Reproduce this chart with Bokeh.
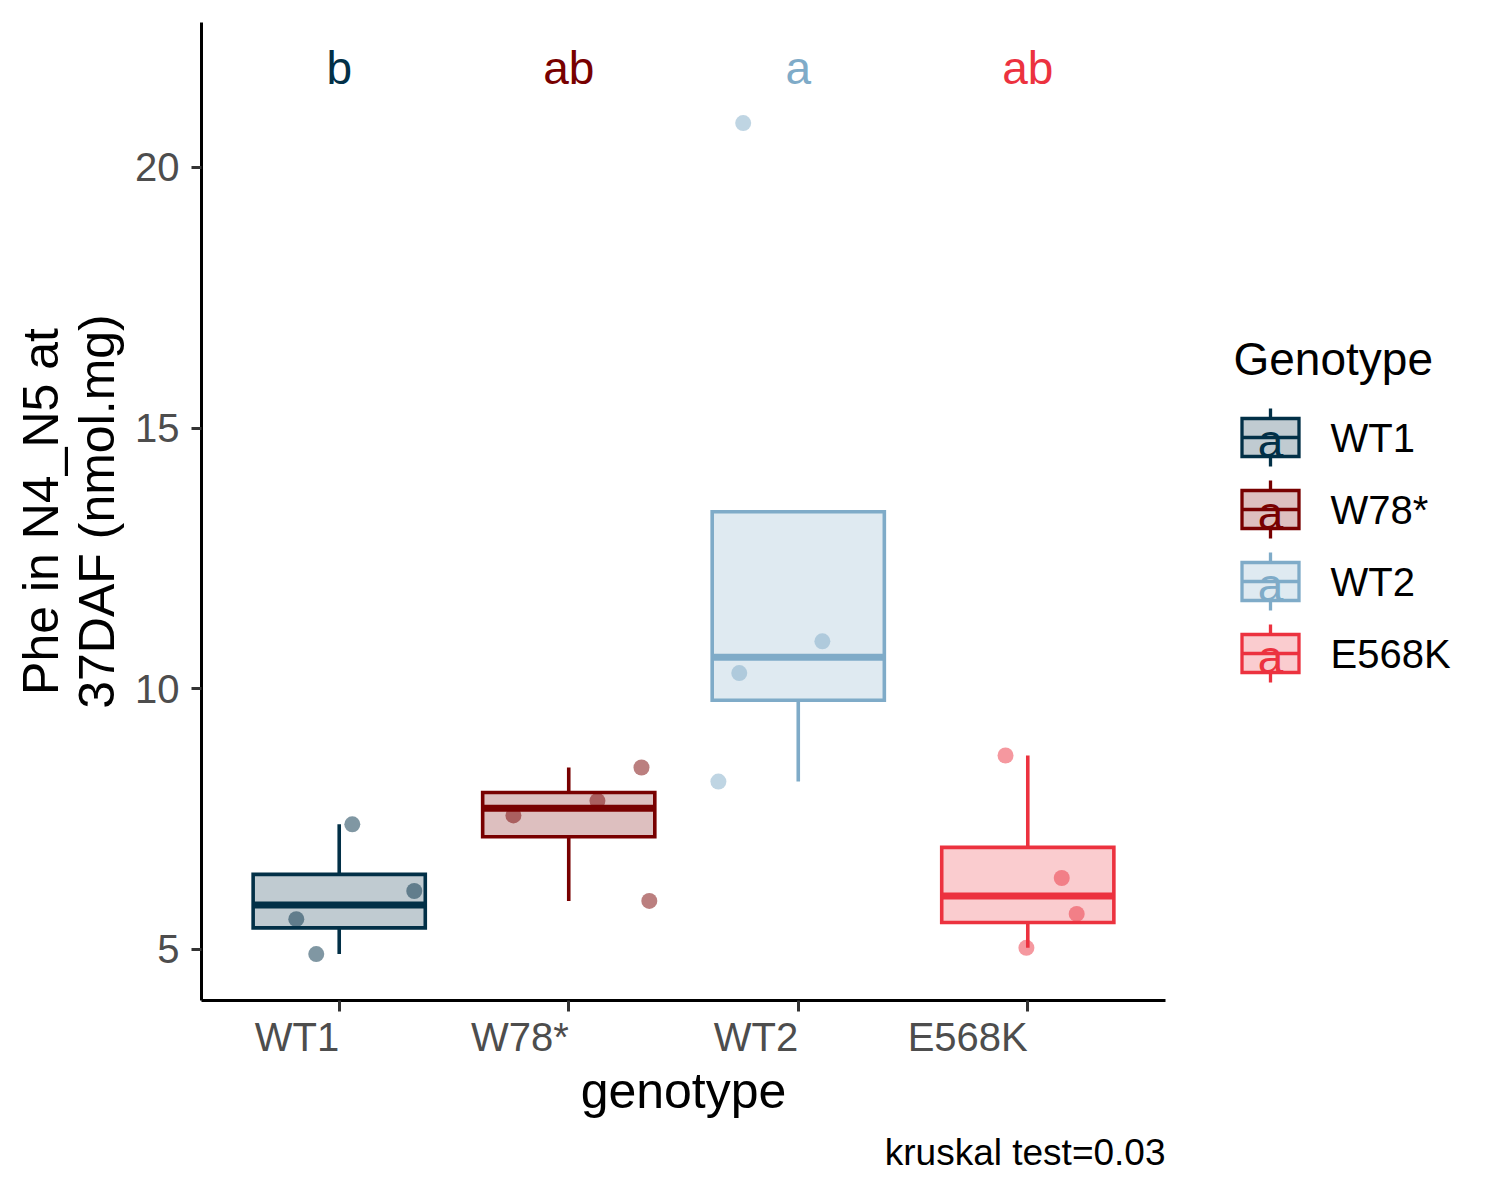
import numpy as np
from bokeh.plotting import figure
from bokeh.models import Range1d, FixedTicker, Title
from bokeh.layouts import row
from bokeh.core.properties import value
from bokeh.embed import file_html
from bokeh.resources import INLINE

FONT = "Liberation Sans"

# ---------------- data ----------------
genotypes = ["WT1", "W78*", "WT2", "E568K"]
colors = ["#023047", "#780000", "#7FABC8", "#EC323F"]
letters = ["b", "ab", "a", "ab"]
letter_y = 21.9

wt1_values = [7.40, 6.12, 5.58, 4.91]
wt1_jitter = [0.057, 0.327, -0.187, -0.100]
w78_values = [8.49, 7.85, 7.57, 5.93]
w78_jitter = [0.317, 0.125, -0.241, 0.351]
wt2_values = [20.85, 10.91, 10.30, 8.22]
wt2_jitter = [-0.240, 0.105, -0.257, -0.348]
e568k_values = [8.72, 6.37, 5.68, 5.03]
e568k_jitter = [-0.097, 0.148, 0.213, -0.006]

group_values = [wt1_values, w78_values, wt2_values, e568k_values]
group_jitter = [wt1_jitter, w78_jitter, wt2_jitter, e568k_jitter]

y_ticks = [5, 10, 15, 20]
caption = "kruskal test=0.03"
y_title = "Phe in N4_N5 at\n37DAF (nmol.mg)"
x_title = "genotype"
legend_title = "Genotype"

BOX_W = 0.75

# ---------------- layout (page pixels) ----------------
FRAME_L, FRAME_R, FRAME_T, FRAME_B = 201, 1165, 22, 1000
MAIN_W, TOTAL_W, TOTAL_H = 1175, 1484, 1184

# ---------------- main figure ----------------
p = figure(width=MAIN_W, height=TOTAL_H,
           x_range=Range1d(0.4, 4.6), y_range=Range1d(4.02, 22.78),
           output_backend="svg", toolbar_location=None,
           min_border_left=FRAME_L, min_border_right=MAIN_W - FRAME_R,
           min_border_top=FRAME_T, min_border_bottom=TOTAL_H - FRAME_B)
p.grid.visible = False
p.outline_line_color = None
p.background_fill_color = "white"

positions = list(range(1, len(genotypes) + 1))

# points (drawn first, boxes over them)
for i, (vals, jit) in enumerate(zip(group_values, group_jitter)):
    xs = [positions[i] + j for j in jit]
    p.scatter(xs, vals, size=16, fill_color=colors[i], line_color=None,
              fill_alpha=0.5)

# boxplots
for i, vals in enumerate(group_values):
    v = np.array(vals)
    q1, med, q3 = np.percentile(v, [25, 50, 75])
    iqr = q3 - q1
    inside = v[(v >= q1 - 1.5 * iqr) & (v <= q3 + 1.5 * iqr)]
    lo = min(q1, inside.min())
    hi = max(q3, inside.max())
    x = positions[i]
    c = colors[i]
    p.segment([x, x], [q3, q1], [x, x], [hi, lo], line_color=c, line_width=3.6)
    p.quad(left=[x - BOX_W / 2], right=[x + BOX_W / 2], bottom=[q1], top=[q3],
           fill_color=c, fill_alpha=0.25, line_color=c, line_width=3.6,
           line_join="miter")
    p.segment([x - BOX_W / 2], [med], [x + BOX_W / 2], [med],
              line_color=c, line_width=7)

# significance letters
p.text(positions, [letter_y] * len(positions), text=letters,
       text_color=colors, text_align="center", text_baseline="middle",
       text_font=value(FONT), text_font_size="46px")

# axes
ax = p.yaxis[0]
ax.ticker = FixedTicker(ticks=y_ticks)
ax.minor_tick_line_color = None
ax.axis_line_width = 3
ax.axis_line_color = "black"
ax.major_tick_line_color = "#333333"
ax.major_tick_line_width = 3
ax.major_tick_out = 10
ax.major_tick_in = 0
ax.major_label_text_font = FONT
ax.major_label_text_font_size = "40px"
ax.major_label_text_color = "#4D4D4D"
ax.major_label_standoff = 12
ax.axis_label = y_title
ax.axis_label_text_font = FONT
ax.axis_label_text_font_size = "50px"
ax.axis_label_text_font_style = "normal"
ax.axis_label_text_color = "black"
ax.axis_label_text_line_height = 1.0
ax.axis_label_standoff = 7

bx = p.xaxis[0]
bx.ticker = FixedTicker(ticks=positions)
bx.major_label_overrides = {pos: g for pos, g in zip(positions, genotypes)}
bx.major_label_orientation = 0.0001   # tiny positive angle -> labels end at the tick
bx.minor_tick_line_color = None
bx.axis_line_width = 3
bx.axis_line_color = "black"
bx.major_tick_line_color = "#333333"
bx.major_tick_line_width = 3
bx.major_tick_out = 11
bx.major_tick_in = 0
bx.major_label_text_font = FONT
bx.major_label_text_font_size = "40px"
bx.major_label_text_color = "#4D4D4D"
bx.major_label_standoff = 25
bx.axis_label = x_title
bx.axis_label_text_font = FONT
bx.axis_label_text_font_size = "50px"
bx.axis_label_text_font_style = "normal"
bx.axis_label_text_color = "black"
bx.axis_label_standoff = -21

# caption, right-aligned under the plot
p.add_layout(Title(text=caption, align="right", vertical_align="bottom",
                   text_line_height=1.3, text_font=FONT,
                   text_font_size="37px", text_font_style="normal",
                   text_color="black", standoff=17), "below")

# ---------------- legend figure ----------------
LW = TOTAL_W - MAIN_W
# frames of plots in a row are aligned, so map the legend's y to page pixels
lg = figure(width=LW, height=TOTAL_H,
            x_range=Range1d(MAIN_W, TOTAL_W), y_range=Range1d(FRAME_B, FRAME_T),
            output_backend="svg", toolbar_location=None, min_border=0,
            x_axis_location=None, y_axis_location=None)
lg.outline_line_color = None
lg.grid.visible = False

TITLE_X, TITLE_Y = 1233, 358
KEY_CX, ROW0, ROW_STEP = 1270, 437, 72
KEY_HW, KEY_HH, WHISK = 28.5, 19, 29
LABEL_X = 1330

lg.text([TITLE_X], [TITLE_Y], text=[legend_title], text_align="left",
        text_baseline="middle", text_font=value(FONT), text_font_size="46px",
        text_color="black")

for i, g in enumerate(genotypes):
    cy = ROW0 + ROW_STEP * i
    c = colors[i]
    lg.segment([KEY_CX, KEY_CX], [cy - WHISK, cy + KEY_HH],
               [KEY_CX, KEY_CX], [cy - KEY_HH, cy + WHISK],
               line_color=c, line_width=3.3)
    lg.quad(left=[KEY_CX - KEY_HW], right=[KEY_CX + KEY_HW],
            top=[cy - KEY_HH], bottom=[cy + KEY_HH],
            fill_color=c, fill_alpha=0.25, line_color=c, line_width=3.3,
            line_join="miter")
    lg.segment([KEY_CX - KEY_HW], [cy], [KEY_CX + KEY_HW], [cy],
               line_color=c, line_width=3.3)
    lg.text([KEY_CX], [cy], text=["a"], text_align="center",
            text_baseline="middle", y_offset=3, text_font=value(FONT),
            text_font_size="46px", text_color=c)
    lg.text([LABEL_X], [cy], text=[g], text_align="left",
            text_baseline="middle", text_font=value(FONT),
            text_font_size="40px", text_color="black")

layout = row(p, lg)
open("out.html", "w").write(file_html(layout, INLINE))
